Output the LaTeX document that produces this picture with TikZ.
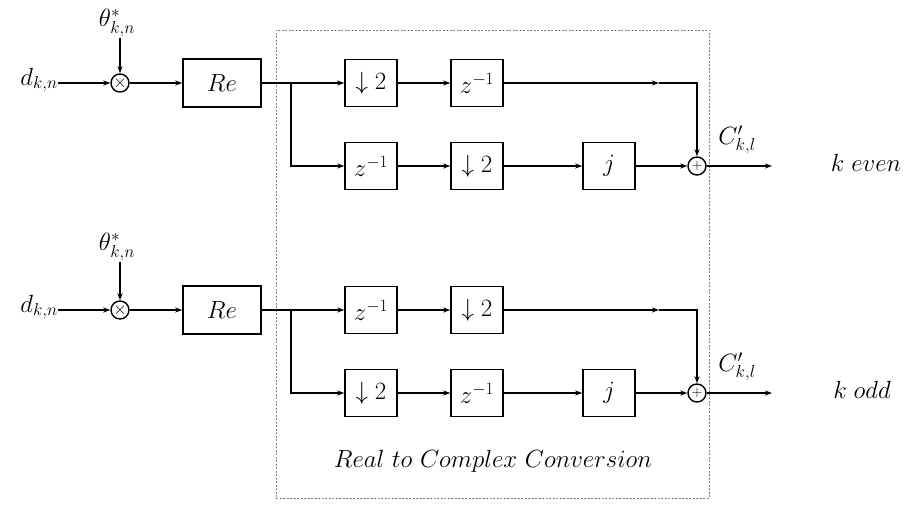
\documentclass[tikz,border=0pt]{standalone}
\usetikzlibrary{arrows.meta}
\DeclareMathSizes{23}{23}{17.5}{13}
\DeclareMathSizes{25}{25}{18}{14}
\begin{document}
\begin{tikzpicture}[x=1pt,y=-1pt, font=\fontsize{23}{27}\selectfont,
 blk/.style={draw, line width=1.5pt, minimum width=52pt, minimum height=47pt, inner sep=0pt},
 reblk/.style={blk, minimum width=78pt, minimum height=48pt},
 op/.style={draw, circle, line width=1.4pt, minimum size=18pt, inner sep=0pt},
 sig/.style={line width=1.3pt, -{Stealth[length=7pt,width=5pt]}},
 wire/.style={line width=1.3pt},
 lbl/.style={inner sep=0pt},
 frame/.style={draw=gray, line width=0.8pt, dash pattern=on 2pt off 1.5pt}]
\useasboundingbox (0,0) rectangle (907,505);
% frame
\node[frame, minimum width=433pt, minimum height=468pt, inner sep=0pt] (conv) at (492.5,264) {};
\node[lbl, font=\fontsize{25}{30}\selectfont] (convtxt) at (493,461) {$Real\ to\ Complex\ Conversion$};

% ---------- upper (k even) ----------
\node[lbl, anchor=east] (din1) at (58,80) {$d_{k,n}$};
\node[lbl] (th1) at (117,23) {$\theta^{*}_{k,n}$};
\node[op, font=\fontsize{17}{17}\selectfont] (m1) at (120,83) {$\times$};
\node[reblk] (re1) at (222,83) {$Re$};
\coordinate (b1) at (291,83);
\node[blk] (da1) at (371,83) {$\downarrow 2$};
\node[blk] (za1) at (477,83) {$z^{-1}$};
\node[blk] (zb1) at (371,166) {$z^{-1}$};
\node[blk] (db1) at (477,166) {$\downarrow 2$};
\node[blk] (j1) at (609,166) {$j$};
\node[op, font=\fontsize{14}{14}\selectfont] (s1) at (697,166) {$+$};
\coordinate (mid1) at (659,83);
\coordinate (o1) at (772,166);
\node[lbl] (c1) at (737,140) {$C'_{k,l}$};
\node[lbl] (ke) at (866,163) {$k\ even$};

\draw[sig] (din1.east |- m1.west) -- (m1.west);
\draw[sig] (th1.south -| m1.north) ++(0,1) -- (m1.north);
\draw[sig] (m1.east) -- (re1.west);
\draw[wire] (re1.east) -- (b1);
\draw[sig] (b1) -- (b1 -| da1.west);
\draw[sig] (b1) |- (zb1.west);
\draw[sig] (da1.east) -- (za1.west);
\draw[sig] (zb1.east) -- (db1.west);
\draw[sig] (db1.east) -- (j1.west);
\draw[sig] (za1.east) -- (mid1);
\draw[sig] (mid1) -| (s1.north);
\draw[sig] (j1.east) -- (s1.west);
\draw[sig] (s1.east) -- (o1);

% ---------- lower (k odd) ----------
\node[lbl, anchor=east] (din2) at (58,307) {$d_{k,n}$};
\node[lbl] (th2) at (117,247) {$\theta^{*}_{k,n}$};
\node[op, font=\fontsize{17}{17}\selectfont] (m2) at (120,310) {$\times$};
\node[reblk] (re2) at (222,310) {$Re$};
\coordinate (b2) at (291,310);
\node[blk] (za2) at (371,310) {$z^{-1}$};
\node[blk] (da2) at (477,310) {$\downarrow 2$};
\node[blk] (db2) at (371,393) {$\downarrow 2$};
\node[blk] (zb2) at (477,393) {$z^{-1}$};
\node[blk] (j2) at (609,393) {$j$};
\node[op, font=\fontsize{14}{14}\selectfont] (s2) at (697,393) {$+$};
\coordinate (mid2) at (659,310);
\coordinate (o2) at (772,393);
\node[lbl] (c2) at (737,367) {$C'_{k,l}$};
\node[lbl] (ko) at (862,390) {$k\ odd$};

\draw[sig] (din2.east |- m2.west) -- (m2.west);
\draw[sig] (th2.south -| m2.north) ++(0,1) -- (m2.north);
\draw[sig] (m2.east) -- (re2.west);
\draw[wire] (re2.east) -- (b2);
\draw[sig] (b2) -- (b2 -| za2.west);
\draw[sig] (b2) |- (db2.west);
\draw[sig] (za2.east) -- (da2.west);
\draw[sig] (db2.east) -- (zb2.west);
\draw[sig] (zb2.east) -- (j2.west);
\draw[sig] (da2.east) -- (mid2);
\draw[sig] (mid2) -| (s2.north);
\draw[sig] (j2.east) -- (s2.west);
\draw[sig] (s2.east) -- (o2);
\end{tikzpicture}
\end{document}
